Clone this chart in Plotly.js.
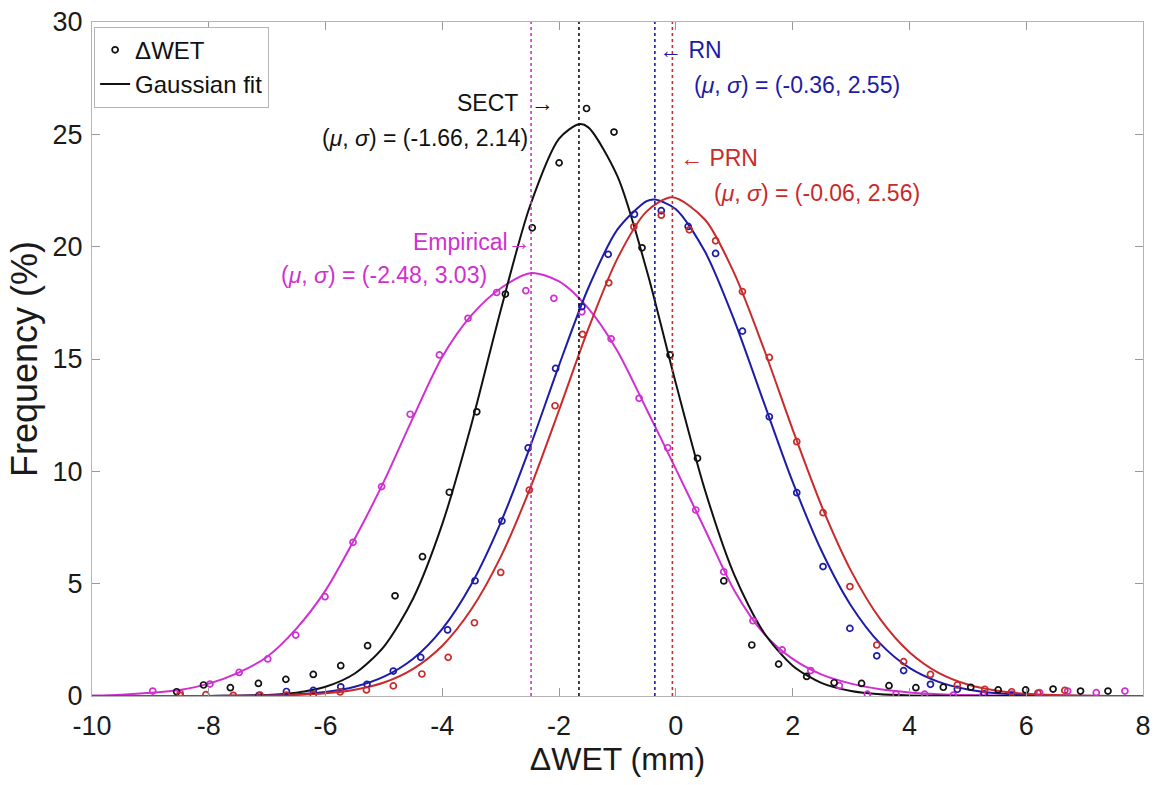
<!DOCTYPE html>
<html>
<head>
<meta charset="utf-8">
<script src="https://cdn.plot.ly/plotly-3.0.1.min.js"></script>
<style>body{margin:0;background:#fff}#chart{width:1160px;height:785px}</style>
</head>
<body>
<div id="chart"></div>
<script>
// ---- measured histogram points (ΔWET bins, frequency %) ----
const sectX = [-8.55,-8.09,-7.63,-7.15,-6.68,-6.21,-5.74,-5.28,-4.81,-4.34,-3.88,-3.41,-2.92,-2.46,-2.0,-1.53,-1.06,-0.58,-0.10,0.37,0.82,1.30,1.76,2.24,2.71,3.18,3.65,4.11,4.58,5.05,5.52,5.99,6.46,6.93,7.40];
const sectY = [0.19,0.49,0.37,0.56,0.74,0.96,1.35,2.24,4.46,6.2,9.07,12.65,17.89,20.84,23.73,26.15,25.1,19.95,15.18,10.58,5.12,2.27,1.42,0.87,0.59,0.56,0.46,0.37,0.39,0.39,0.27,0.27,0.31,0.22,0.22];

const empX = [-8.96,-8.49,-7.98,-7.48,-6.99,-6.51,-6.01,-5.53,-5.04,-4.55,-4.05,-3.56,-3.07,-2.57,-2.09,-1.61,-1.11,-0.63,-0.14,0.34,0.82,1.32,1.82,2.31,2.80,3.28,3.77,4.26,4.75,5.26,5.75,6.23,6.71,7.20,7.69];
const empY = [0.22,0.13,0.53,1.05,1.65,2.71,4.42,6.84,9.32,12.54,15.18,16.81,17.96,18.04,17.7,17.1,15.9,13.25,11.05,8.28,5.53,3.35,2.05,1.13,0.46,0.08,0.08,0.08,0.04,0.04,0.09,0.15,0.22,0.15,0.22];

const rnX = [-7.14,-6.67,-6.21,-5.74,-5.29,-4.84,-4.37,-3.91,-3.44,-2.98,-2.53,-2.06,-1.61,-1.16,-0.71,-0.25,0.21,0.68,1.14,1.60,2.07,2.52,2.98,3.44,3.90,4.36,4.82,5.28,5.75];
const rnY = [0.03,0.2,0.25,0.41,0.52,1.11,1.72,2.94,5.13,7.79,11.04,14.58,17.33,19.66,21.44,21.6,20.9,19.7,16.24,12.43,9.05,5.76,3.01,1.79,1.13,0.52,0.3,0.1,0.03];

const prnX = [-8.49,-8.05,-7.58,-7.12,-6.67,-6.21,-5.75,-5.30,-4.84,-4.35,-3.90,-3.45,-3.0,-2.51,-2.07,-1.60,-1.15,-0.72,-0.25,0.23,0.68,1.14,1.60,2.07,2.52,2.98,3.44,3.90,4.36,4.82,5.29,5.75,6.20,6.66];
const prnY = [0.03,0.06,0.03,0.04,0.04,0.06,0.18,0.27,0.45,0.98,1.72,3.26,5.5,9.17,12.92,16.1,18.39,20.89,21.4,20.75,20.26,18.0,15.07,11.32,8.16,4.87,2.27,1.53,0.96,0.49,0.30,0.19,0.13,0.25];

// ---- Gaussian fit curves ----
const sectFitX = [-10,-9,-8.5,-8,-7.5,-7,-6.5,-6,-5.5,-5,-4.5,-4,-3.5,-3,-2.5,-2,-1.66,-1.5,-1,-0.5,0,0.5,1,1.5,2,2.5,3,3.5,4,4.5,5,6,8];
const sectFitY = [0,0,0.001,0.004,0.014,0.049,0.15,0.41,1.00,2.20,4.34,7.66,12.11,17.17,21.80,24.81,25.45,25.31,23.13,18.95,13.91,9.15,5.39,2.85,1.35,0.57,0.22,0.074,0.023,0.006,0.001,0,0];

const rnFitX = [-10,-9,-8.5,-8,-7.5,-7,-6.5,-6,-5.5,-5,-4.5,-4,-3.5,-3,-2.5,-2,-1.5,-1,-0.5,-0.36,0,0.5,1,1.5,2,2.5,3,3.5,4,4.5,5,5.5,6,6.5,7,7.5,8];
const rnFitY = [0,0,0.001,0.003,0.01,0.028,0.075,0.18,0.41,0.86,1.66,2.99,4.99,7.72,11.07,14.73,18.16,20.77,22.03,22.1,21.67,19.77,16.72,13.11,9.53,6.43,4.02,2.33,1.25,0.63,0.29,0.12,0.05,0.018,0.006,0.002,0];

const prnFitX = [-10,-9,-8.5,-8,-7.5,-7,-6.5,-6,-5.5,-5,-4.5,-4,-3.5,-3,-2.5,-2,-1.5,-1,-0.5,-0.06,0.5,1,1.5,2,2.5,3,3.5,4,4.5,5,5.5,6,6.5,7,7.5,8];
const prnFitY = [0,0,0,0.002,0.006,0.018,0.049,0.12,0.28,0.60,1.21,2.24,3.87,6.19,9.22,12.73,16.34,19.48,21.57,22.2,21.20,18.81,15.50,11.86,8.43,5.57,3.42,1.95,1.03,0.51,0.23,0.098,0.039,0.014,0.005,0];

const empFitX = [-10,-9.5,-9,-8.5,-8,-7.5,-7,-6.5,-6,-5.5,-5,-4.5,-4,-3.5,-3,-2.48,-2,-1.5,-1,-0.5,0,0.5,1,1.5,2,2.5,3,3.5,4,4.5,5,5.5,6,7,8];
const empFitY = [0.02,0.06,0.14,0.27,0.55,1.03,1.75,3.0,4.7,7.0,9.55,12.4,15.1,16.95,18.15,18.83,18.45,17.25,15.35,12.75,10.1,7.4,4.7,2.8,1.65,0.95,0.55,0.3,0.16,0.08,0.04,0.02,0.01,0,0];

// ---- fit statistics (labels) ----
const seriesNames = ['Empirical','SECT','RN','PRN'];
const fitMu = [-2.48,-1.66,-0.36,-0.06];
const fitSigma = ['3.03','2.14','2.55','2.56'];
const fitMuText = ['-2.48','-1.66','-0.36','-0.06'];

const xTicks = [-10,-8,-6,-4,-2,0,2,4,6,8];
const yTicks = [0,5,10,15,20,25,30];

const colors = {Empirical:'#d12fd1', SECT:'#111111', RN:'#1c1ca8', PRN:'#c92a2a'};
const FONT = 'Liberation Sans, Arial, Helvetica, sans-serif';

function fitTrace(x, y, c, name, show) {
  return {x:x, y:y, type:'scatter', mode:'lines', name:name, showlegend:show,
    line:{color:c, width:2, shape:'spline', smoothing:0.8}, hoverinfo:'skip', legendrank:2};
}
function ptTrace(x, y, c, name, show) {
  return {x:x, y:y, type:'scatter', mode:'markers', name:name, showlegend:show,
    marker:{symbol:'circle-open', size:6, color:c, line:{width:1.7, color:c}}, legendrank:1};
}

const data = [
  fitTrace(empFitX, empFitY, colors.Empirical, 'emp fit', false),
  fitTrace(sectFitX, sectFitY, colors.SECT, 'Gaussian fit', true),
  fitTrace(rnFitX, rnFitY, colors.RN, 'rn fit', false),
  fitTrace(prnFitX, prnFitY, colors.PRN, 'prn fit', false),
  ptTrace(empX, empY, colors.Empirical, 'emp', false),
  ptTrace(sectX, sectY, colors.SECT, 'ΔWET', true),
  ptTrace(rnX, rnY, colors.RN, 'rn', false),
  ptTrace(prnX, prnY, colors.PRN, 'prn', false)
];

const shapes = fitMu.map((m, i) => ({
  type:'line', xref:'x', yref:'y', x0:m, x1:m, y0:0, y1:30,
  line:{color:colors[seriesNames[i]], width:1.6, dash:'dot'}
}));

function musig(i) {
  return '(<i>μ</i>, <i>σ</i>) = (' + fitMuText[i] + ', ' + fitSigma[i] + ')';
}
function ann(text, x, y, anchor, c) {
  return {text:text, x:x, y:y, xref:'x', yref:'y', xanchor:anchor, yanchor:'middle',
    showarrow:false, font:{family:FONT, size:23, color:c}};
}
const annotations = [
  ann('SECT  →', -2.05, 26.4, 'right', colors.SECT),
  ann(musig(1), -2.5, 24.85, 'right', colors.SECT),
  ann('← RN', -0.33, 28.75, 'left', colors.RN),
  ann(musig(2), 0.27, 27.2, 'left', colors.RN),
  ann('← PRN', 0.03, 23.95, 'left', colors.PRN),
  ann(musig(3), 0.62, 22.4, 'left', colors.PRN),
  ann('Empirical→', -2.45, 20.2, 'right', colors.Empirical),
  ann(musig(0), -3.2, 18.75, 'right', colors.Empirical)
];

const axisCommon = {
  showgrid:false, zeroline:false, showline:true, linecolor:'#b5b5b5', linewidth:1,
  mirror:'ticks', ticks:'inside', ticklen:8, tickcolor:'#9a9a9a', tickwidth:1,
  tickfont:{family:FONT, size:27, color:'#1a1a1a'}
};

const layout = {
  width:1160, height:785,
  margin:{l:92, r:17, t:22, b:89},
  paper_bgcolor:'#ffffff', plot_bgcolor:'#ffffff',
  font:{family:FONT},
  xaxis:Object.assign({}, axisCommon, {range:[-10,8], tickvals:xTicks, ticktext:xTicks.map(String),
    ticklabelstandoff:6,
    title:{text:'ΔWET (mm)', font:{family:FONT, size:32, color:'#1a1a1a'}, standoff:6}}),
  yaxis:Object.assign({}, axisCommon, {range:[0,30], tickvals:yTicks, ticktext:yTicks.map(String),
    ticklabelstandoff:3,
    title:{text:'Frequency (%)', font:{family:FONT, size:36, color:'#1a1a1a'}, standoff:3}}),
  showlegend:true,
  legend:{x:0.002, y:0.993, xanchor:'left', yanchor:'top', bgcolor:'#ffffff',
    bordercolor:'#b5b5b5', borderwidth:1, font:{family:FONT, size:24, color:'#111'},
    itemwidth:30, tracegroupgap:0, traceorder:'normal'},
  shapes:shapes,
  annotations:annotations
};

Plotly.newPlot('chart', data, layout, {displayModeBar:false, staticPlot:true});
</script>
</body>
</html>
